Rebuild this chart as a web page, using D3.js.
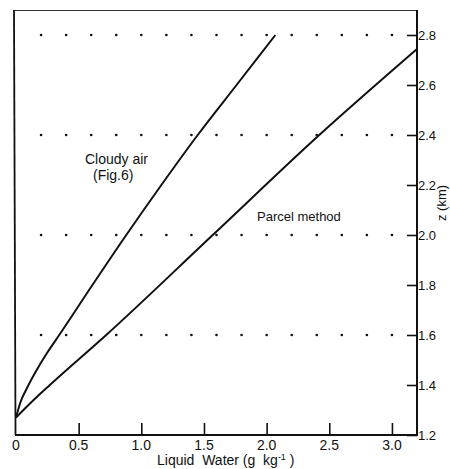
<!DOCTYPE html>
<html>
<head>
<meta charset="utf-8">
<script src="https://cdnjs.cloudflare.com/ajax/libs/d3/7.8.5/d3.min.js"></script>
<style>
body { margin: 0; background: #fff; }
text { font-family: "Liberation Sans", Arial, sans-serif; fill: #111; }
</style>
</head>
<body>
<div id="chart"></div>
<script>

// liquid water (g/kg) vs height z (km)
let cloudyZ = [1.27, 1.33, 1.39, 1.46, 1.53, 1.6, 1.8, 2.0, 2.2, 2.4, 2.6, 2.8];
let cloudyQ = [0, 0.035, 0.09, 0.165, 0.25, 0.345, 0.61, 0.88, 1.16, 1.45, 1.76, 2.07];

let parcelZ = [1.27, 1.33, 1.40, 1.6, 2.0, 2.4, 2.744];
let parcelQ = [0, 0.12, 0.27, 0.72, 1.57, 2.42, 3.2];

let xTicks = [0.5, 1.0, 1.5, 2.0, 2.5, 3.0];
let xLabels = ["0", "0.5", "1.0", "1.5", "2.0", "2.5", "3.0"];
let yTicks = [1.2, 1.4, 1.6, 1.8, 2.0, 2.2, 2.4, 2.6, 2.8];
let dotRows = [1.6, 2.0, 2.4, 2.8];
let dotCols = [0.2, 0.4, 0.6, 0.8, 1.0, 1.2, 1.4, 1.6, 1.8, 2.0, 2.2, 2.4, 2.6, 2.8, 3.0];

let width = 450;
let height = 469;

let x = d3.scaleLinear().domain([0, 3.2]).range([16, 417]);
let y = d3.scaleLinear().domain([1.2, 2.9]).range([435, 10]);

let svg = d3.select("#chart")
	.append("svg")
	.attr("width", width)
	.attr("height", height);

// frame
svg.append("line")
	.attr("x1", 13).attr("x2", x(3.2))
	.attr("y1", y(2.9) + 0.5).attr("y2", y(2.9) + 0.5)
	.attr("stroke", "#333").attr("stroke-width", 1.2);
svg.append("line")
	.attr("x1", 14).attr("x2", 15.5)
	.attr("y1", y(2.9)).attr("y2", y(1.2))
	.attr("stroke", "#111").attr("stroke-width", 1.8);

// bottom axis
let xAxis = d3.axisTop(x)
	.tickValues(xTicks)
	.tickSize(12)
	.tickFormat("");
let gx = svg.append("g")
	.attr("transform", "translate(0," + y(1.2) + ")")
	.call(xAxis);
gx.select(".domain").remove();
gx.selectAll(".tick line").attr("stroke", "#111").attr("stroke-width", 1.6);
svg.append("line")
	.attr("x1", 15).attr("x2", x(3.2))
	.attr("y1", y(1.2)).attr("y2", y(1.2))
	.attr("stroke", "#111").attr("stroke-width", 1.8);

svg.append("g")
	.selectAll("text")
	.data(xLabels)
	.enter().append("text")
	.attr("x", d => x(+d))
	.attr("y", 450)
	.attr("text-anchor", "middle")
	.attr("font-size", 14)
	.text(d => d);

let title = svg.append("text")
	.attr("x", 157)
	.attr("y", 465)
	.attr("font-size", 14)
	.attr("xml:space", "preserve");
title.append("tspan").text("Liquid  Water (g  kg");
title.append("tspan").attr("dy", -5).attr("font-size", 9).text("-1");
title.append("tspan").attr("dy", 5).text(" )");

// right axis
let yAxis = d3.axisRight(y)
	.tickValues(yTicks)
	.tickSize(-10)
	.tickFormat(d3.format(".1f"));
let gy = svg.append("g")
	.attr("transform", "translate(" + x(3.2) + ",0)")
	.call(yAxis);
gy.select(".domain").remove();
gy.selectAll(".tick line").attr("stroke", "#111").attr("stroke-width", 1.6);
gy.selectAll(".tick text")
	.attr("x", 1)
	.attr("font-size", 13)
	.attr("font-family", "Liberation Sans, Arial, sans-serif")
	.attr("fill", "#111");
svg.append("line")
	.attr("x1", x(3.2)).attr("x2", x(3.2))
	.attr("y1", y(2.9)).attr("y2", y(1.2) + 1)
	.attr("stroke", "#111").attr("stroke-width", 2);

svg.append("text")
	.attr("transform", "translate(446,203) rotate(-90)")
	.attr("text-anchor", "middle")
	.attr("font-size", 13)
	.text("z (km)");

// dotted reference rows
let dots = [];
dotRows.forEach(r => dotCols.forEach(c => dots.push([c, r])));
svg.append("g")
	.selectAll("circle")
	.data(dots)
	.enter().append("circle")
	.attr("cx", d => x(d[0]))
	.attr("cy", d => y(d[1]))
	.attr("r", 1.3)
	.attr("fill", "#111");

// curves
let line = d3.line()
	.x(d => x(d[0]))
	.y(d => y(d[1]))
	.curve(d3.curveMonotoneX);

svg.append("path")
	.datum(cloudyQ.map((q, i) => [q, cloudyZ[i]]))
	.attr("d", line)
	.attr("fill", "none")
	.attr("stroke", "#111")
	.attr("stroke-width", 2);

svg.append("path")
	.datum(parcelQ.map((q, i) => [q, parcelZ[i]]))
	.attr("d", line)
	.attr("fill", "none")
	.attr("stroke", "#111")
	.attr("stroke-width", 2);

// curve labels
svg.append("text").attr("x", 85).attr("y", 164).attr("font-size", 14).text("Cloudy air");
svg.append("text").attr("x", 93).attr("y", 180).attr("font-size", 14).text("(Fig.6)");
svg.append("text").attr("x", 257).attr("y", 221).attr("font-size", 13).text("Parcel method");

</script>
</body>
</html>
